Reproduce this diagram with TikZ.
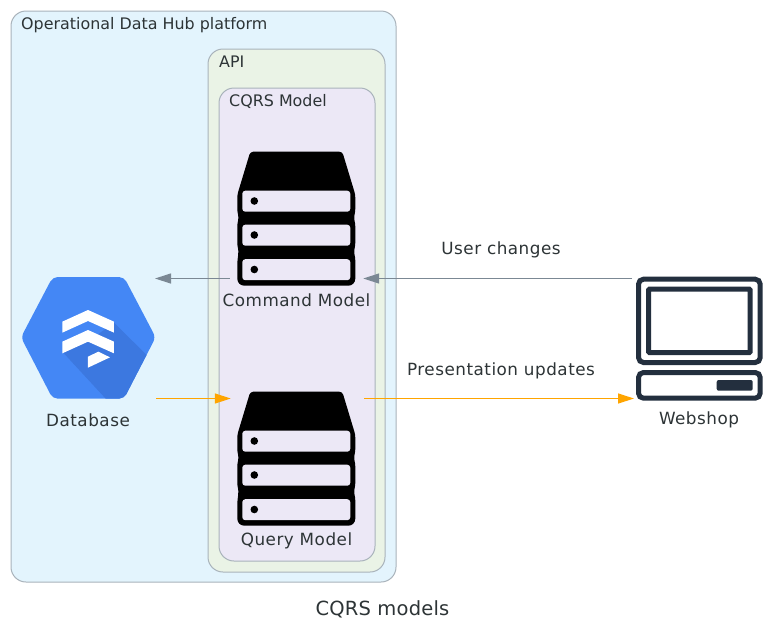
\documentclass[tikz,border=0pt]{standalone}
\usepackage{fontspec}
\setmainfont{DejaVu Sans}
\usetikzlibrary{arrows.meta}
\definecolor{outerbg}{HTML}{E3F4FD}
\definecolor{apibg}{HTML}{EAF3E6}
\definecolor{cqrsbg}{HTML}{ECE8F6}
\definecolor{edgeline}{HTML}{A9B3BB}
\definecolor{inktext}{HTML}{2D3436}
\definecolor{greyflow}{HTML}{7B8894}
\definecolor{orangeflow}{HTML}{FFA500}
\definecolor{laptopink}{HTML}{232F3E}
\definecolor{hexblue}{HTML}{4487F5}
\definecolor{hexshade}{HTML}{3C78E0}
\tikzset{
  cluster/.style={draw=edgeline,line width=1pt,rounded corners=15},
  lbl/.style={text=inktext,inner sep=0pt,font=\fontsize{16.8}{19}\selectfont\addfontfeature{LetterSpace=3}},
  clusterlbl/.style={text=inktext,inner sep=0pt,font=\fontsize{15.9}{19}\selectfont,anchor=base west},
  iconbox/.style={inner sep=0pt,minimum width=133,minimum height=10,draw=none},
  greyarrow/.style={draw=greyflow,line width=1.2pt,-{Triangle[length=16,width=10,fill=greyflow]}},
  orangearrow/.style={draw=orangeflow,line width=1.2pt,-{Triangle[length=16,width=10,fill=orangeflow]}},
  laptopline/.style={draw=laptopink,line width=5pt,rounded corners=5},
  serverpic/.pic={
    \fill[black,rounded corners=3] (-46,0) -- (46,0) -- (59,43) -- (59,60) -- (57.5,66) -- (59,72)
      -- (59,94) -- (57.5,100) -- (59,106) [rounded corners=7] -- (59,134) -- (-59,134) -- (-59,106) [rounded corners=3] -- (-57.5,100)
      -- (-59,94) -- (-59,72) -- (-57.5,66) -- (-59,60) -- (-59,43) -- cycle;
    \foreach \yy in {39,73,107.5}{
      \fill[cqrsbg,rounded corners=3] (-54,\yy) rectangle (54,\yy+21);
      \fill[black] (-42,\yy+10.3) circle (3.8);
    }
  }
}
\begin{document}
\begin{tikzpicture}[x=1pt,y=-1pt]
\useasboundingbox (0,0) rectangle (767,627);
\fill[white] (0,0) rectangle (767,627);
% clusters
\path[cluster,fill=outerbg] (11,11) rectangle (396,582);
\path[cluster,fill=apibg] (208,49) rectangle (385,572);
\path[cluster,fill=cqrsbg] (219,88) rectangle (375,561);
\node[clusterlbl] (lplatform) at (21,29.5) {Operational Data Hub platform};
\node[clusterlbl] (lapi) at (219,67.2) {API};
\node[clusterlbl] (lcqrs) at (229,106.2) {CQRS Model};
% database icon
\begin{scope}[shift={(10,260)},scale=0.3333]
  \fill[hexblue,rounded corners=5] (33,232) -- (128,51) -- (342,51) -- (437,232) -- (342,416) -- (128,416) -- cycle;
  \begin{scope}
    \clip[rounded corners=5] (33,232) -- (128,51) -- (342,51) -- (437,232) -- (342,416) -- (128,416) -- cycle;
    \fill[hexshade] (157,275) -- (234,245) -- (312,188) -- (420,295) -- (340,430) -- (300,430) -- cycle;
  \end{scope}
  \fill[white] (157,185) -- (234,150) -- (312,185) -- (312,218) -- (234,183) -- (157,218) -- cycle;
  \fill[white] (157,245) -- (234,210) -- (312,245) -- (312,280) -- (234,245) -- (157,280) -- cycle;
  \fill[white] (234,290) -- (265,275) -- (300,292) -- (234,323) -- cycle;
\end{scope}
% server icons
\pic at (296.3,151.7) {serverpic};
\pic at (296.3,391.7) {serverpic};
% laptop icon
\draw[laptopline] (638.5,279.2) rectangle (760.2,362.5);
\draw[laptopink,line width=5pt,rounded corners=1] (648.5,289.2) rectangle (750.2,352.5);
\draw[laptopline] (638.5,372.5) rectangle (760.2,398.2);
\fill[laptopink,rounded corners=2] (716.7,380) rectangle (752.7,390.7);
% anchors
\node[iconbox] (cmd) at (296.5,278.5) {};
\node[iconbox] (qry) at (297.5,398.5) {};
\coordinate (dbtop) at (155,278.5);
\coordinate (dbbot) at (156,398.5);
\coordinate (webtop) at (632,278.5);
\coordinate (webbot) at (634,398.5);
% labels
\node[lbl] (ldb) at (88,420) {Database};
\node[lbl] (lcmd) at (296.5,300.5) {Command Model};
\node[lbl] (lqry) at (296.5,540.5) {Query Model};
\node[lbl] (lweb) at (699,420) {Webshop};
\node[lbl] (luser) at (501,250) {User changes};
\node[lbl] (lpres) at (501,371) {Presentation updates};
\node[text=inktext,inner sep=0pt,font=\fontsize{19.5}{22}\selectfont\addfontfeature{LetterSpace=1}] (ltitle) at (382.5,609.5) {CQRS models};
% connectors
\draw[greyarrow] (cmd.west) -- (dbtop);
\draw[greyarrow] (webtop) -- (cmd.east);
\draw[orangearrow] (dbbot) -- (qry.west);
\draw[orangearrow] (qry.east) -- (webbot);
\end{tikzpicture}
\end{document}
